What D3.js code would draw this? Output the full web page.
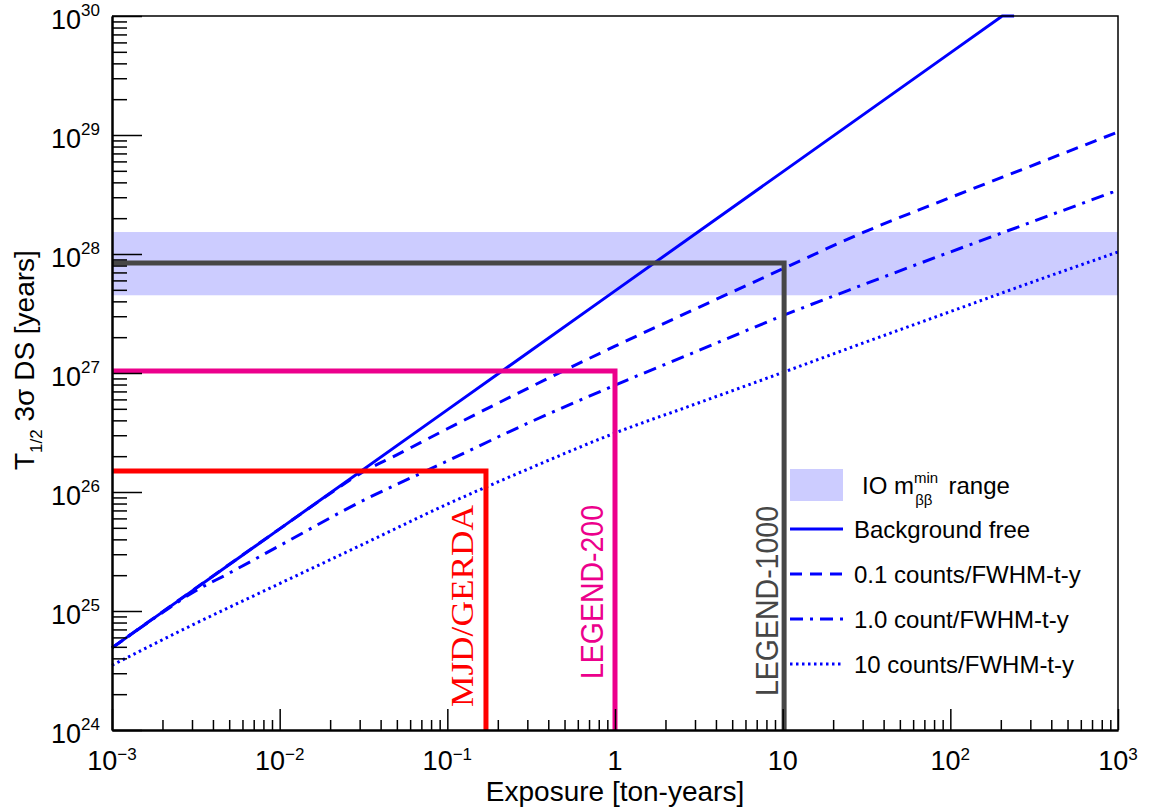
<!DOCTYPE html>
<html>
<head>
<meta charset="utf-8">
<script src="https://cdn.jsdelivr.net/npm/d3@7"></script>
<style>
  html, body { margin: 0; padding: 0; background: #fff; }
  svg { display: block; font-family: "Liberation Sans", Arial, sans-serif; }
</style>
</head>
<body>
<svg id="chart" width="1158" height="811"></svg>
<script>
// ---------------- DATA ----------------
const xDomain = [1e-3, 1e3];
const yDomain = [1e24, 1e30];

const xMajorTicks = [1e-3, 1e-2, 1e-1, 1, 10, 100, 1000];
const xTickBase = ["10", "10", "10", "1", "10", "10", "10"];
const xTickExp  = ["\u22123", "\u22122", "\u22121", "", "", "2", "3"];

const yMajorTicks = [1e24, 1e25, 1e26, 1e27, 1e28, 1e29, 1e30];
const yTickBase = ["10", "10", "10", "10", "10", "10", "10"];
const yTickExp  = ["24", "25", "26", "27", "28", "29", "30"];

// Background free
const bfExposure = [0.001, 0.01, 0.1, 1, 10, 100, 204, 240];
const bfHalfLife = [4.9e24, 4.9e25, 4.9e26, 4.9e27, 4.9e28, 4.9e29, 1e30, 1e30];

// 0.1 counts/FWHM-t-y
const b01Exposure = [0.001, 0.01, 0.02, 0.03, 0.05, 0.1, 0.3, 1, 3, 10, 30, 100, 300, 1000];
const b01HalfLife = [4.9e24, 4.9e25, 9.7e25, 1.42e26, 2.05e26, 3.4e26, 7.4e26, 1.68e27, 3.44e27, 7.5e27, 1.51e28, 2.98e28, 5.46e28, 1.06e29];

// 1.0 count/FWHM-t-y
const b1Exposure = [0.001, 0.002, 0.003, 0.005, 0.01, 0.03, 0.1, 0.3, 1, 3, 10, 30, 100, 300, 1000];
const b1HalfLife = [4.9e24, 9.7e24, 1.42e25, 2.08e25, 3.54e25, 8.2e25, 1.82e26, 3.77e26, 7.9e26, 1.5e27, 3.03e27, 5.5e27, 1.04e28, 1.84e28, 3.44e28];

// 10 counts/FWHM-t-y
const b10Exposure = [0.001, 0.003, 0.01, 0.03, 0.1, 0.3, 1, 3, 10, 30, 100, 300, 1000];
const b10HalfLife = [3.5e24, 7.6e24, 1.7e25, 3.53e25, 7.9e25, 1.55e26, 3.13e26, 5.47e26, 1.01e27, 1.78e27, 3.28e27, 5.73e27, 1.04e28];

// IO m_bb^min band
const bandRange = [4.5e27, 1.53e28];

// Experiments: [exposure reach, half-life reach]
const expNames = ["MJD/GERDA", "LEGEND-200", "LEGEND-1000"];
const expExposure = [0.17, 1.0, 10.2];
const expHalfLife = [1.5e26, 1.04e27, 8.4e27];

const legendLabels = ["Background free", "0.1 counts/FWHM-t-y", "1.0 count/FWHM-t-y", "10 counts/FWHM-t-y"];

// ---------------- LAYOUT ----------------
const svg = d3.select("#chart");
const L = 112, R = 1118, T = 16, B = 730;

const x = d3.scaleLog().domain(xDomain).range([L, R]);
const y = d3.scaleLog().domain(yDomain).range([B, T]);

const BLUE = "#0000ff";
const expColors = ["#ff0000", "#ec008c", "#464646"];

// band
svg.append("rect")
  .attr("x", L).attr("width", R - L)
  .attr("y", y(bandRange[1])).attr("height", y(bandRange[0]) - y(bandRange[1]))
  .attr("fill", "#ccccff");

// curves
const series = [
  { e: bfExposure,  t: bfHalfLife,  dash: null,        curve: d3.curveLinear },
  { e: b01Exposure, t: b01HalfLife, dash: "12,8",      curve: d3.curveMonotoneX },
  { e: b1Exposure,  t: b1HalfLife,  dash: "13,7,3,7",  curve: d3.curveMonotoneX },
  { e: b10Exposure, t: b10HalfLife, dash: "2.5,3.5",   curve: d3.curveMonotoneX }
];
const gCurves = svg.append("g");
series.forEach(s => {
  const pts = s.e.map((v, i) => [v, s.t[i]]);
  gCurves.append("path")
    .attr("d", d3.line().x(d => x(d[0])).y(d => y(d[1])).curve(s.curve)(pts))
    .attr("fill", "none")
    .attr("stroke", BLUE)
    .attr("stroke-width", 3)
    .attr("stroke-dasharray", s.dash);
});

// experiment boxes
const gExp = svg.append("g");
expNames.forEach((n, i) => {
  const xe = x(expExposure[i]), ye = y(expHalfLife[i]);
  gExp.append("path")
    .attr("d", `M${L + 1},${ye}H${xe}V${B}`)
    .attr("fill", "none")
    .attr("stroke", expColors[i])
    .attr("stroke-width", 5)
    .attr("stroke-linejoin", "miter");
});

// experiment labels
const labelPos = [
  { bx: x(expExposure[0]) - 13, top: 505, len: 202, font: '"Liberation Serif", "Times New Roman", serif', size: 32 },
  { bx: x(expExposure[1]) - 12, top: 505, len: 174, font: '"Liberation Sans", Arial, sans-serif', size: 31 },
  { bx: x(expExposure[2]) - 6,  top: 506, len: 190, font: '"Liberation Sans", Arial, sans-serif', size: 31 }
];
expNames.forEach((n, i) => {
  const p = labelPos[i];
  svg.append("text")
    .attr("transform", `translate(${p.bx},${p.top}) rotate(-90)`)
    .attr("text-anchor", "end")
    .style("font-family", p.font)
    .attr("font-size", p.size)
    .attr("fill", expColors[i])
    .attr("textLength", p.len)
    .attr("lengthAdjust", "spacingAndGlyphs")
    .text(n);
});

// frame (top and right)
svg.append("path")
  .attr("d", `M${L},${T}H${R}V${B}`)
  .attr("fill", "none").attr("stroke", "#000").attr("stroke-width", 1.5);

// axes
const xMinor = [];
for (let d = -3; d < 3; d++) for (let k = 2; k <= 9; k++) xMinor.push(k * Math.pow(10, d));
const yMinor = [];
for (let d = 24; d < 30; d++) for (let k = 2; k <= 9; k++) yMinor.push(k * Math.pow(10, d));

function styleAxis(g) {
  g.selectAll("path.domain").attr("stroke", "#000").attr("stroke-width", 2);
  g.selectAll(".tick line").attr("stroke", "#000").attr("stroke-width", 1.5);
  g.selectAll(".tick text").remove();
}

const gx = svg.append("g").attr("transform", `translate(0,${B})`);
gx.call(d3.axisBottom(x).tickValues(xMajorTicks).tickSize(-21).tickSizeOuter(0).tickFormat(() => ""));
styleAxis(gx);
const gxm = svg.append("g").attr("transform", `translate(0,${B})`);
gxm.call(d3.axisBottom(x).tickValues(xMinor).tickSize(-10).tickSizeOuter(0).tickFormat(() => ""));
styleAxis(gxm);

const gy = svg.append("g").attr("transform", `translate(${L},0)`);
gy.call(d3.axisLeft(y).tickValues(yMajorTicks).tickSize(-30).tickSizeOuter(0).tickFormat(() => ""));
styleAxis(gy);
const gym = svg.append("g").attr("transform", `translate(${L},0)`);
gym.call(d3.axisLeft(y).tickValues(yMinor).tickSize(-15).tickSizeOuter(0).tickFormat(() => ""));
styleAxis(gym);

// tick labels
xMajorTicks.forEach((v, i) => {
  const t = svg.append("text")
    .attr("x", x(v)).attr("y", 770)
    .attr("text-anchor", "middle")
    .attr("font-size", 27).attr("fill", "#000");
  t.append("tspan").text(xTickBase[i]);
  if (xTickExp[i]) t.append("tspan").attr("font-size", 17).attr("dy", -10).text(xTickExp[i]);
});
yMajorTicks.forEach((v, i) => {
  const t = svg.append("text")
    .attr("x", 100).attr("y", y(v) + 13)
    .attr("text-anchor", "end")
    .attr("font-size", 27).attr("fill", "#000");
  t.append("tspan").text(yTickBase[i]);
  t.append("tspan").attr("font-size", 17).attr("dy", -13).text(yTickExp[i]);
});

// axis titles
svg.append("text")
  .attr("x", 615).attr("y", 801)
  .attr("text-anchor", "middle")
  .attr("font-size", 28).attr("fill", "#000")
  .text("Exposure [ton-years]");

const yt = svg.append("text")
  .attr("transform", "translate(34,470) rotate(-90)")
  .attr("text-anchor", "start")
  .attr("font-size", 28).attr("fill", "#000");
yt.append("tspan").text("T");
yt.append("tspan").attr("font-size", 17).attr("dy", 8).text("1/2");
yt.append("tspan").attr("dy", -8).text(" 3\u03c3 DS [years]");

// legend
const lg = svg.append("g");
lg.append("rect").attr("x", 788).attr("y", 455).attr("width", R - 789).attr("height", 250).attr("fill", "#fff");
lg.append("rect").attr("x", 790).attr("y", 469).attr("width", 53).attr("height", 32).attr("fill", "#ccccff");
const io = lg.append("text").attr("x", 862).attr("y", 494).attr("font-size", 24).attr("fill", "#000");
io.append("tspan").text("IO m");
io.append("tspan").attr("font-size", 15).attr("dy", -11).text("min");
io.append("tspan").attr("font-size", 15).attr("dx", -23).attr("dy", 22).text("\u03b2\u03b2");
io.append("tspan").attr("dy", -11).attr("dx", 16).text("range");

legendLabels.forEach((lab, i) => {
  const yy = 529 + i * 45;
  lg.append("line")
    .attr("x1", 790).attr("x2", 843).attr("y1", yy).attr("y2", yy)
    .attr("stroke", BLUE).attr("stroke-width", 3)
    .attr("stroke-dasharray", series[i].dash);
  lg.append("text").attr("x", 854).attr("y", yy + 9)
    .attr("font-size", 24).attr("fill", "#000").text(lab);
});
</script>
</body>
</html>
